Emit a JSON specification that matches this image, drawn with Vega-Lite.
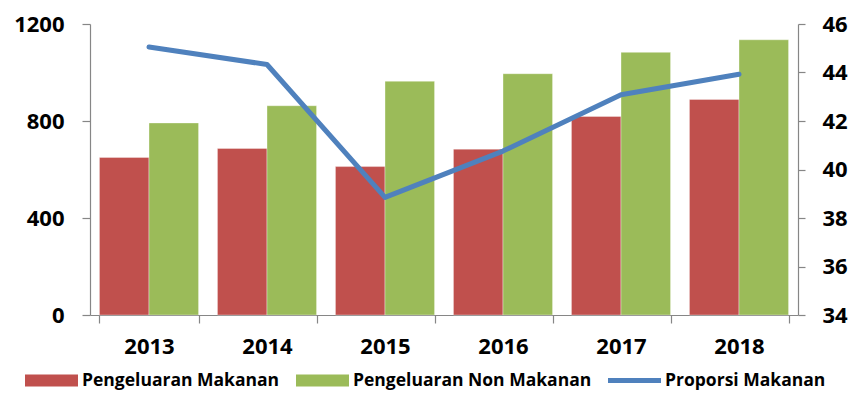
{
  "$schema": "https://vega.github.io/schema/vega-lite/v6.json",
  "autosize": {"type": "none"},
  "padding": {"left": 90, "top": 24, "right": 57, "bottom": 91},
  "width": 708,
  "height": 291,
  "background": "white",
  "config": {"view": {"stroke": null}, "font": "Open Sans"},
  "datasets": {
    "bars": [
      {"year": "2013", "series": "Pengeluaran Makanan", "value": 650},
      {"year": "2013", "series": "Pengeluaran Non Makanan", "value": 792},
      {"year": "2014", "series": "Pengeluaran Makanan", "value": 687},
      {"year": "2014", "series": "Pengeluaran Non Makanan", "value": 863},
      {"year": "2015", "series": "Pengeluaran Makanan", "value": 612},
      {"year": "2015", "series": "Pengeluaran Non Makanan", "value": 964},
      {"year": "2016", "series": "Pengeluaran Makanan", "value": 684},
      {"year": "2016", "series": "Pengeluaran Non Makanan", "value": 995},
      {"year": "2017", "series": "Pengeluaran Makanan", "value": 819},
      {"year": "2017", "series": "Pengeluaran Non Makanan", "value": 1083},
      {"year": "2018", "series": "Pengeluaran Makanan", "value": 889},
      {"year": "2018", "series": "Pengeluaran Non Makanan", "value": 1135}
    ],
    "prop": [
      {"year": "2013", "series": "Proporsi Makanan", "value": 45.05},
      {"year": "2014", "series": "Proporsi Makanan", "value": 44.33},
      {"year": "2015", "series": "Proporsi Makanan", "value": 38.85},
      {"year": "2016", "series": "Proporsi Makanan", "value": 40.76},
      {"year": "2017", "series": "Proporsi Makanan", "value": 43.08},
      {"year": "2018", "series": "Proporsi Makanan", "value": 43.93}
    ]
  },
  "layer": [
    {
      "data": {"name": "bars"},
      "mark": {"type": "bar", "stroke": "#ffffff", "strokeOpacity": 0.6, "strokeWidth": 0.6},
      "encoding": {
        "x": {
          "field": "year", "type": "nominal",
          "scale": {"paddingInner": 0.16, "paddingOuter": 0.08},
          "axis": {
            "title": null, "labelAngle": 0, "tickBand": "extent", "tickSize": 8,
            "domainColor": "#868686", "tickColor": "#868686", "domainWidth": 1.2, "tickWidth": 1.2,
            "labelFontSize": 22, "labelFontWeight": "bold", "labelColor": "#000000", "labelPadding": 13
          }
        },
        "xOffset": {"field": "series", "sort": ["Pengeluaran Makanan", "Pengeluaran Non Makanan"]},
        "y": {
          "field": "value", "type": "quantitative",
          "scale": {"domain": [0, 1200], "nice": false},
          "axis": {
            "title": null, "orient": "left", "values": [0, 400, 800, 1200], "grid": false, "format": "d",
            "tickSize": 8, "domainColor": "#868686", "tickColor": "#868686", "domainWidth": 1.2, "tickWidth": 1.2,
            "labelFontSize": 22, "labelFontWeight": "bold", "labelColor": "#000000", "labelPadding": 18
          }
        },
        "color": {
          "field": "series", "type": "nominal",
          "scale": {
            "domain": ["Pengeluaran Makanan", "Pengeluaran Non Makanan", "Proporsi Makanan"],
            "range": ["#C0504D", "#9BBB59", "#4F81BD"]
          },
          "legend": {
            "title": null, "orient": "none", "legendX": -65, "legendY": 330,
            "direction": "horizontal", "columns": 3, "columnPadding": 16,
            "symbolSize": 2809, "labelOffset": 4,
            "labelFontSize": 17.5, "labelFontWeight": "bold", "labelColor": "#000000", "labelLimit": 400,
            "encoding": {
              "symbols": {
                "shape": {"value": {"expr": "datum.value === 'Proporsi Makanan' ? 'M-1,-0.094H1V0.094H-1Z' : 'M-1,-0.226H1V0.226H-1Z'"}},
                "strokeWidth": {"value": 0},
                "opacity": {"value": 1}
              }
            }
          }
        }
      }
    },
    {
      "data": {"name": "prop"},
      "mark": {"type": "line", "strokeWidth": 5, "strokeJoin": "round", "strokeCap": "round"},
      "encoding": {
        "x": {"field": "year", "type": "nominal"},
        "y": {
          "field": "value", "type": "quantitative",
          "scale": {"domain": [34, 46], "nice": false, "zero": false},
          "axis": {
            "title": null, "orient": "right", "values": [34, 36, 38, 40, 42, 44, 46], "grid": false,
            "tickSize": 7, "domainColor": "#868686", "tickColor": "#868686", "domainWidth": 1.2, "tickWidth": 1.2,
            "labelFontSize": 22, "labelFontWeight": "bold", "labelColor": "#000000", "labelPadding": 17
          }
        },
        "color": {"field": "series", "type": "nominal"}
      }
    }
  ],
  "resolve": {"scale": {"y": "independent"}}
}
